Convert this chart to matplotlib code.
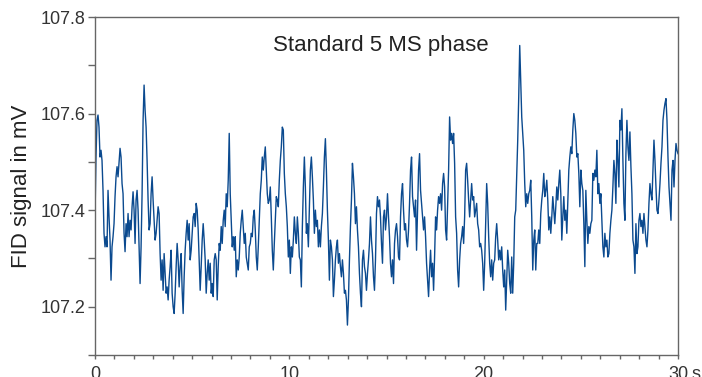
import numpy as np
import matplotlib
matplotlib.use("Agg")
import matplotlib.pyplot as plt
from matplotlib.ticker import MultipleLocator

plt.rcParams['font.family'] = ['Liberation Sans', 'DejaVu Sans']

# FID signal in mV left to right (about one point per pixel)
seg1 = [107.386, 107.510, 107.586, 107.597, 107.572, 107.510, 107.524, 107.503, 107.441, 107.352,
        107.324, 107.345, 107.324, 107.441, 107.386, 107.338, 107.255, 107.324, 107.345, 107.372,
        107.428, 107.469, 107.490, 107.469, 107.497, 107.528, 107.510, 107.455, 107.434, 107.352,
        107.314, 107.372, 107.345, 107.393, 107.345, 107.379, 107.359, 107.407, 107.438, 107.400,
        107.331, 107.421, 107.441, 107.400, 107.324, 107.248, 107.324, 107.434, 107.586, 107.659,
        107.607, 107.572, 107.503, 107.421, 107.359, 107.372, 107.434, 107.469, 107.421, 107.379,
        107.338, 107.352, 107.379, 107.407, 107.393, 107.310, 107.255, 107.297, 107.234, 107.310,
        107.269, 107.228, 107.241, 107.214, 107.255, 107.283, 107.317, 107.228, 107.200, 107.186,
        107.228, 107.283, 107.331, 107.297, 107.241, 107.283, 107.310]
seg2 = [107.234, 107.186, 107.262, 107.317, 107.352, 107.379, 107.338, 107.372, 107.297, 107.317,
        107.352, 107.386, 107.393, 107.366, 107.414, 107.400, 107.359, 107.297, 107.234, 107.283,
        107.338, 107.372, 107.338, 107.297, 107.228, 107.269, 107.297, 107.255, 107.290, 107.228,
        107.248, 107.221, 107.297, 107.310, 107.297, 107.214, 107.283, 107.331, 107.317, 107.366,
        107.331, 107.379, 107.400, 107.366, 107.434, 107.407, 107.462, 107.559, 107.434, 107.379,
        107.324, 107.345, 107.317, 107.345, 107.262, 107.297, 107.276, 107.303, 107.352, 107.379,
        107.400, 107.366, 107.331, 107.352, 107.303, 107.290, 107.276, 107.324, 107.331, 107.352,
        107.345, 107.386, 107.400, 107.359, 107.303, 107.276, 107.324, 107.379, 107.434, 107.462,
        107.510, 107.483, 107.510, 107.531, 107.483, 107.434, 107.414, 107.421, 107.448, 107.386,
        107.317, 107.276, 107.331, 107.379, 107.428, 107.421, 107.407, 107.462, 107.503, 107.531,
        107.572]
seg3 = [107.566, 107.476, 107.434, 107.407, 107.366, 107.303, 107.338, 107.269, 107.324, 107.303,
        107.338, 107.386, 107.352, 107.331, 107.386, 107.352, 107.303, 107.297, 107.241, 107.366,
        107.448, 107.510, 107.448, 107.352, 107.372, 107.324, 107.400, 107.483, 107.510, 107.469,
        107.421, 107.352, 107.400, 107.366, 107.379, 107.324, 107.359, 107.324, 107.366, 107.393,
        107.448, 107.510, 107.548, 107.483, 107.400, 107.338, 107.255, 107.338, 107.324, 107.297,
        107.221, 107.255, 107.297, 107.324, 107.338, 107.290, 107.310, 107.283, 107.262, 107.297,
        107.269, 107.228, 107.234, 107.214, 107.162, 107.214, 107.297, 107.366, 107.421, 107.497,
        107.469, 107.434, 107.372, 107.407, 107.359, 107.324, 107.269, 107.228, 107.200, 107.297,
        107.317, 107.283, 107.269, 107.234, 107.269, 107.297, 107.331, 107.386, 107.338, 107.310,
        107.262, 107.234, 107.297, 107.393, 107.428, 107.407, 107.421, 107.386, 107.331, 107.290,
        107.386]
seg4 = [107.400, 107.359, 107.386, 107.434, 107.386, 107.345, 107.290, 107.262, 107.297, 107.248,
        107.331, 107.359, 107.372, 107.345, 107.303, 107.297, 107.386, 107.434, 107.455, 107.400,
        107.359, 107.372, 107.338, 107.324, 107.359, 107.414, 107.483, 107.510, 107.428, 107.407,
        107.386, 107.421, 107.317, 107.400, 107.483, 107.517, 107.441, 107.414, 107.386, 107.359,
        107.386, 107.345, 107.290, 107.255, 107.221, 107.276, 107.317, 107.262, 107.290, 107.234,
        107.303, 107.386, 107.359, 107.400, 107.428, 107.414, 107.434, 107.400, 107.455, 107.476,
        107.448, 107.359, 107.338, 107.414, 107.483, 107.593, 107.545, 107.559, 107.538, 107.559,
        107.497, 107.386, 107.352, 107.276, 107.241, 107.297, 107.331, 107.345, 107.366, 107.331,
        107.386, 107.483, 107.497, 107.462, 107.421, 107.386, 107.421, 107.455, 107.421, 107.428,
        107.386, 107.400, 107.414, 107.372, 107.359, 107.324, 107.331, 107.317, 107.290, 107.234]
seg5 = [107.290, 107.372, 107.455, 107.414, 107.345, 107.290, 107.262, 107.297, 107.255, 107.290,
        107.297, 107.345, 107.372, 107.338, 107.297, 107.317, 107.297, 107.324, 107.276, 107.241,
        107.276, 107.193, 107.255, 107.317, 107.290, 107.248, 107.228, 107.303, 107.228, 107.290,
        107.386, 107.400, 107.469, 107.545, 107.634, 107.741, 107.669, 107.593, 107.559, 107.524,
        107.455, 107.407, 107.434, 107.414, 107.434, 107.441, 107.462, 107.386, 107.276, 107.338,
        107.359, 107.276, 107.331, 107.331, 107.359, 107.331, 107.393, 107.421, 107.441, 107.476,
        107.428, 107.441, 107.462, 107.421, 107.359, 107.386, 107.352, 107.386, 107.428, 107.400,
        107.372, 107.407, 107.448, 107.421, 107.455, 107.483, 107.434, 107.338, 107.386, 107.428,
        107.379, 107.400, 107.352, 107.421, 107.483, 107.510, 107.531, 107.517, 107.566, 107.600,
        107.586, 107.559, 107.510, 107.517, 107.476, 107.407, 107.483, 107.455, 107.441, 107.372]
seg6 = [107.283, 107.441, 107.379, 107.331, 107.366, 107.352, 107.372, 107.379, 107.476, 107.462,
        107.483, 107.469, 107.524, 107.434, 107.455, 107.414, 107.434, 107.379, 107.324, 107.303,
        107.352, 107.324, 107.338, 107.303, 107.310, 107.352, 107.379, 107.400, 107.448, 107.503,
        107.476, 107.414, 107.545, 107.503, 107.448, 107.586, 107.566, 107.610, 107.503, 107.414,
        107.379, 107.517, 107.586, 107.531, 107.503, 107.562, 107.490, 107.434, 107.338, 107.324,
        107.269, 107.372, 107.310, 107.324, 107.379, 107.393, 107.366, 107.379, 107.352, 107.393,
        107.366, 107.338, 107.324, 107.359, 107.414, 107.455, 107.434, 107.421, 107.483, 107.545,
        107.503, 107.448, 107.400, 107.393, 107.421, 107.455, 107.497, 107.531, 107.586, 107.607,
        107.621, 107.631, 107.586, 107.510, 107.448, 107.414, 107.379, 107.483, 107.503, 107.448,
        107.503, 107.538, 107.524, 107.517]

signal = np.array(seg1 + seg2 + seg3 + seg4 + seg5 + seg6)
t_start, t_end = 0, 30
time = np.linspace(t_start, t_end, len(signal))

xticks = [0, 10, 20, 30]
xticklabels = ['0', '10', '20', '30']
yticks = [107.2, 107.4, 107.6, 107.8]
title = 'Standard 5 MS phase'

fig = plt.figure(figsize=(7.02, 3.77), dpi=100)
ax = fig.add_axes([95 / 702, 1 - 355 / 377, (678 - 95) / 702, (355 - 17) / 377])

ax.plot(time, signal, color='#0b4a8f', lw=1.0)

ax.set_xlim(0, 30)
ax.set_ylim(107.1, 107.8)
ax.set_xticks(xticks)
ax.set_xticklabels(xticklabels)
ax.xaxis.set_minor_locator(MultipleLocator(1))
ax.set_yticks(yticks)
ax.yaxis.set_minor_locator(MultipleLocator(0.1))

for s in ax.spines.values():
    s.set_color('#666666')
    s.set_linewidth(1.0)
ax.tick_params(axis='x', which='both', direction='out', length=3, width=1,
               color='#666666', labelsize=13, labelcolor='#333333', pad=5)
ax.tick_params(axis='y', which='both', direction='out', length=5, width=1,
               color='#666666', labelsize=13, labelcolor='#333333', pad=2)

# unit after the last tick label
ax.annotate('s', xy=(30, 0), xycoords=ax.get_xaxis_transform(),
            xytext=(9.5, -8), textcoords='offset points',
            ha='left', va='top', fontsize=13, color='#333333')

ax.set_ylabel('FID signal in mV', fontsize=16, color='#222222', labelpad=6)
ax.text(0.49, 0.915, title, transform=ax.transAxes, ha='center', va='center',
        fontsize=16, color='#222222')

fig.savefig('out.png', dpi=100)
